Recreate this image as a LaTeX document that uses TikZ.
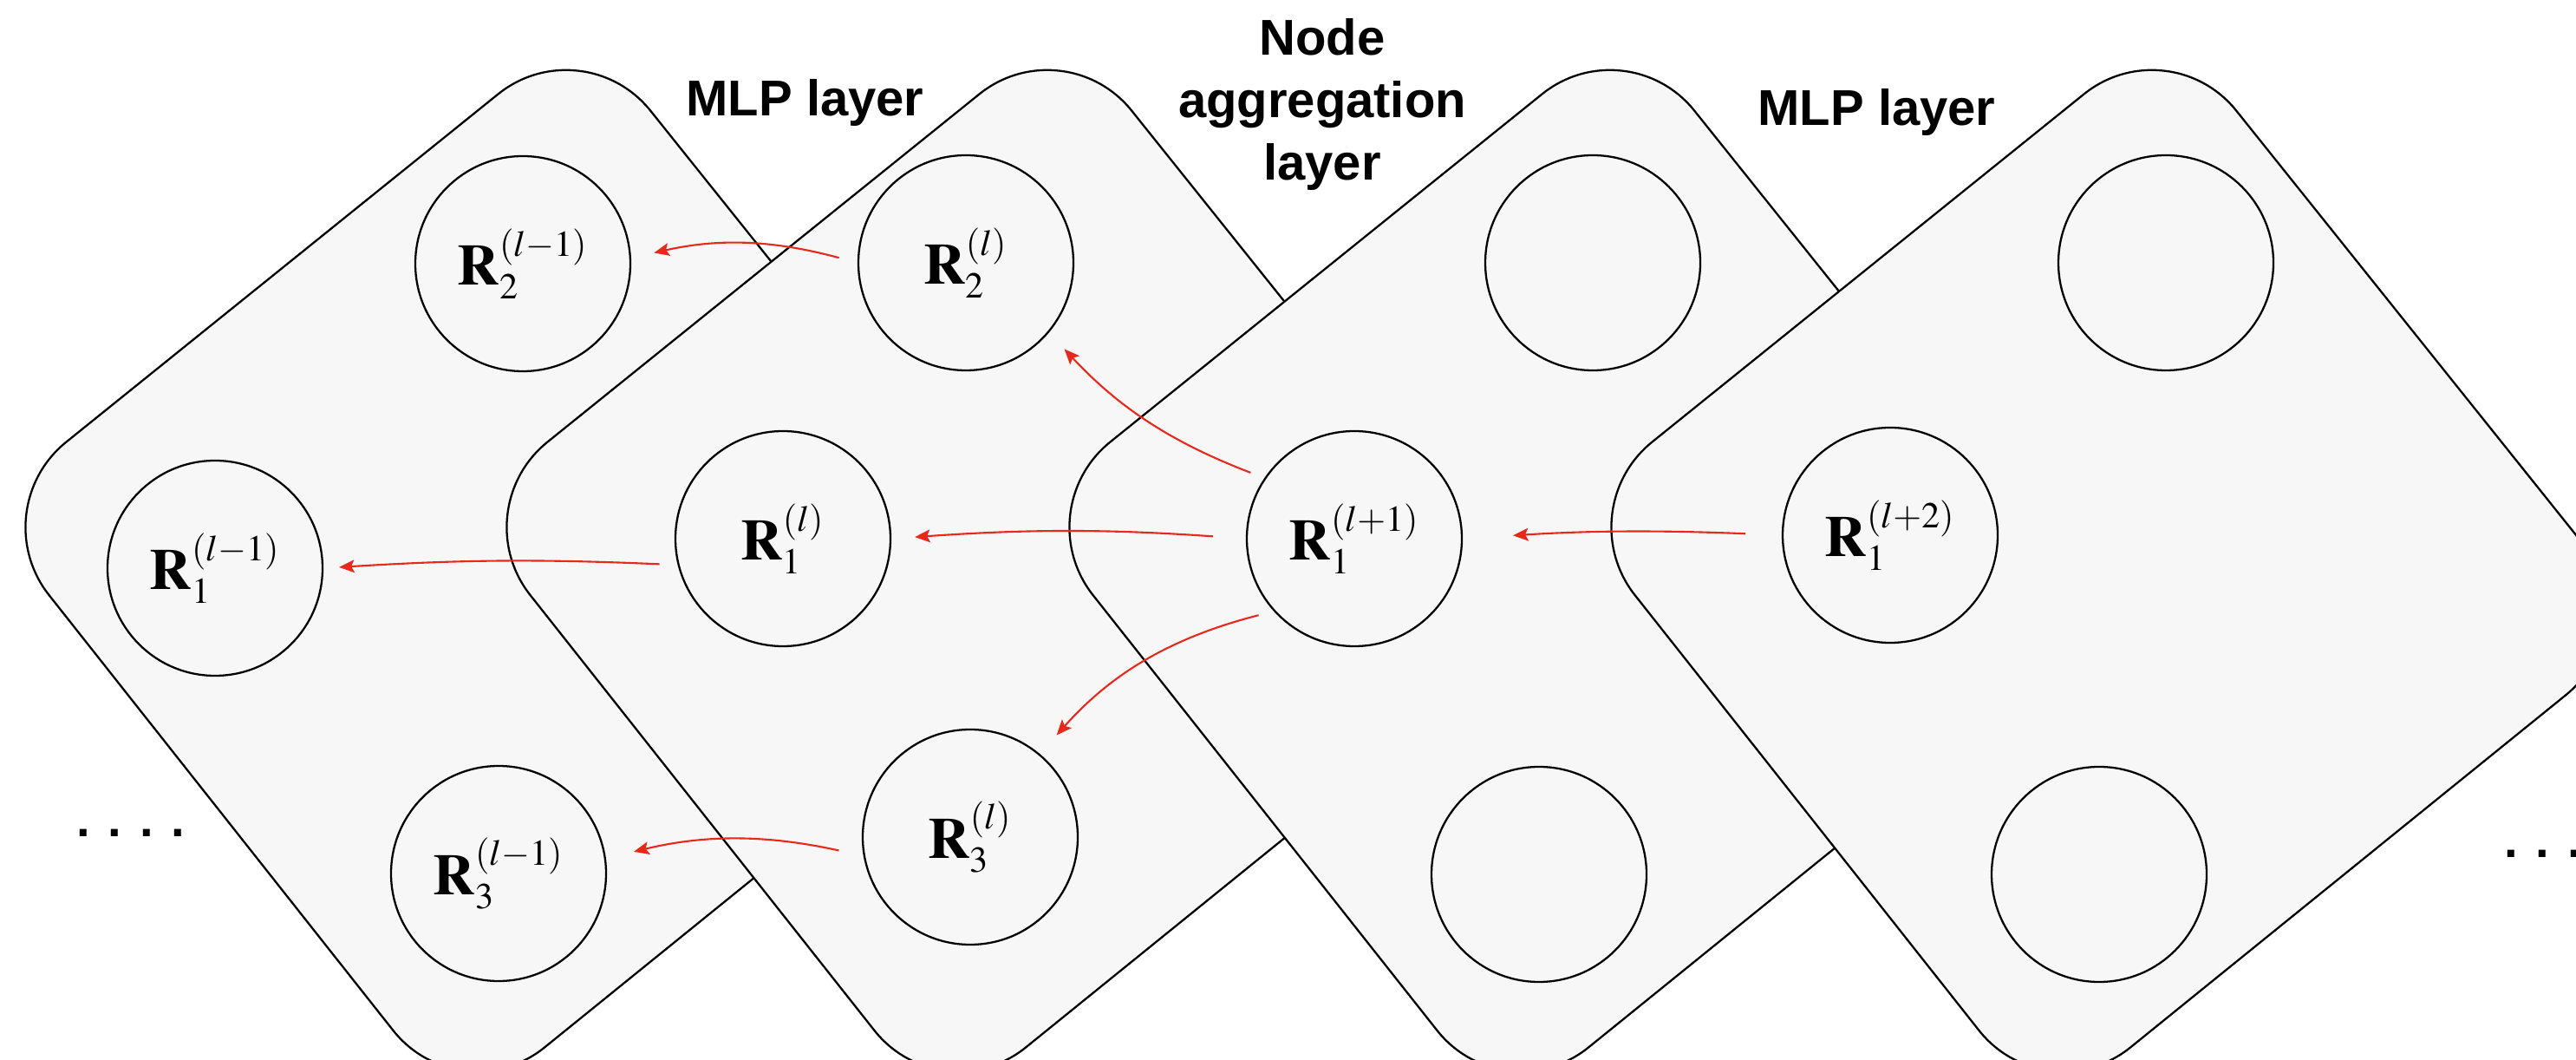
\documentclass[tikz,border=0pt]{standalone}
\usepackage{mathptmx}
\usepackage[no-math]{fontspec}
\setsansfont{Liberation Sans}
\definecolor{card_c}{rgb}{
	0.9686274509803922, 0.9686274509803922, 0.9686274509803922
	}
\definecolor{flow_c}{rgb}{
	0.9098039215686274, 0.1568627450980392, 0.10196078431372549
	}
\DeclareMathSizes{19}{19}{12}{9}
\usepackage{tikz}
\usetikzlibrary{arrows.meta,
                positioning}

\begin{document}
\begin{tikzpicture}[
			line width=0.65pt,
			card/.style = {draw, fill=card_c, rounded corners=1.25cm},
			unit/.style = {circle, draw, fill=card_c, minimum size=2.48cm, inner sep=0pt, font=\fontsize{19}{22}\selectfont},
			layer/.style = {font=\sffamily\bfseries\fontsize{16.5}{20.6}\selectfont, align=center, anchor=base},
			more/.style = {font=\sffamily\bfseries\fontsize{16}{19}\selectfont, inner sep=0pt, anchor=base west},
			flow/.style = {color=flow_c, line width=0.6pt},
			>={Stealth[length=5pt, width=4.2pt, inset=1pt]},
			->,
			]
			\useasboundingbox (0,0) rectangle (29.71,12.21);
			\clip (0,0) rectangle (29.71,12.21);
			% layers
			\draw[card] (6.72,11.91) -- (12.27,4.98) -- (5.31,-0.65) -- (-0.21,6.33) -- cycle;
			\draw[card, xshift=5.55cm] (6.72,11.91) -- (12.27,4.98) -- (5.31,-0.65) -- (-0.21,6.33) -- cycle;
			\draw[card, xshift=12.04cm] (6.72,11.91) -- (12.27,4.98) -- (5.31,-0.65) -- (-0.21,6.33) -- cycle;
			\draw[card, xshift=18.29cm] (6.72,11.91) -- (12.27,4.98) -- (5.31,-0.65) -- (-0.21,6.33) -- cycle;
			% units
			\node[unit] (rm2) at (6.03,9.17) {$\mathbf{R}_2^{(l-1)}$};
			\node[unit] (rm1) at (2.48,5.66) {$\mathbf{R}_1^{(l-1)}$};
			\node[unit] (rm3) at (5.75,2.14) {$\mathbf{R}_3^{(l-1)}$};
			\node[unit] (r2) at (11.14,9.18) {$\mathbf{R}_2^{(l)}$};
			\node[unit] (r1) at (9.03,6.00) {$\mathbf{R}_1^{(l)}$};
			\node[unit] (r3) at (11.19,2.56) {$\mathbf{R}_3^{(l)}$};
			\node[unit] (a2) at (18.37,9.18) {};
			\node[unit] (rp1) at (15.62,6.00) {$\mathbf{R}_1^{(l+1)}$};
			\node[unit] (a3) at (17.75,2.13) {};
			\node[unit] (b2) at (24.98,9.18) {};
			\node[unit] (rpp1) at (21.80,6.04) {$\mathbf{R}_1^{(l+2)}$};
			\node[unit] (b3) at (24.21,2.13) {};
			% notes
			\node[layer] (mlp1) at (9.285,10.87) {MLP layer};
			\node[layer] (agg) at (15.25,10.13) {Node\\aggregation\\layer};
			\node[layer] (mlp2) at (21.645,10.76) {MLP layer};
			\node[more] (more_l) at (0.87,2.57) {. . . .};
			\node[more] (more_r) at (28.87,2.33) {. . .};
			% edges
			\path[flow]
			(rpp1.west) edge[bend right=3, shorten <=0.42cm, shorten >=0.58cm] (rp1.east)
			(rp1.west) edge[bend right=4, shorten <=0.38cm, shorten >=0.27cm] (r1.east)
			(r1.194) edge[bend right=3, shorten <=0.21cm, shorten >=0.18cm] (rm1.east)
			(rp1.146) edge[bend left=13, shorten <=0.17cm, shorten >=0.26cm] (r2.-40)
			(rp1.222) edge[bend right=17, shorten <=0.18cm, shorten >=0.29cm] (r3.50)
			(r2.west) edge[bend right=14, shorten <=0.22cm, shorten >=0.27cm] (rm2.3)
			(r3.190) edge[bend right=13, shorten <=0.29cm, shorten >=0.33cm] (rm3.8)
			;
\end{tikzpicture}
\end{document}
